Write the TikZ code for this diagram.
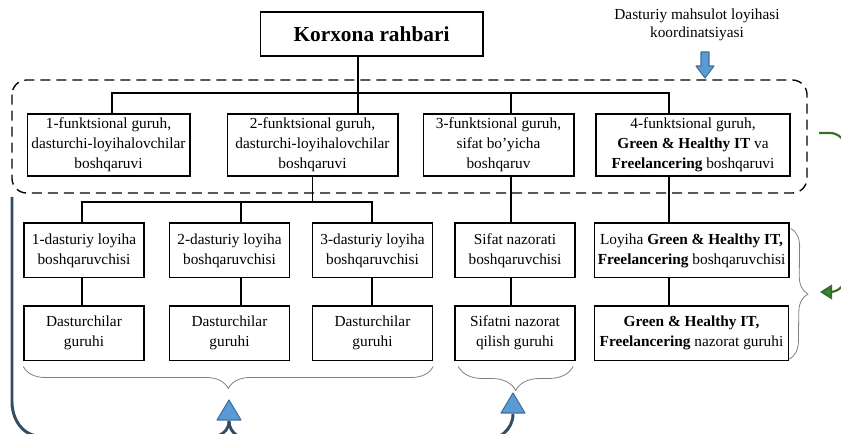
\documentclass[tikz,border=0pt]{standalone}
\usepackage{fontspec}
\setmainfont{Liberation Serif}
\usetikzlibrary{arrows.meta, positioning, decorations.pathreplacing}

\definecolor{arrowblue}{RGB}{91,155,213}
\definecolor{arrowedge}{RGB}{65,113,156}
\definecolor{slate}{RGB}{50,76,100}
\definecolor{leafgreen}{RGB}{58,108,42}
\definecolor{headgreen}{RGB}{30,150,60}

\begin{document}
\begin{tikzpicture}[x=0.75pt, y=-0.75pt]
	\tikzset{box/.style={draw, line width=1pt, align=center, inner sep=2pt, font=\fontsize{11.5}{15}\selectfont},
		fgbox/.style={box, minimum height=46.5pt},
		pmbox/.style={box, minimum height=41pt, minimum width=90pt},
		link/.style={line width=1pt},
		frame/.style={dashed, dash pattern=on 7.5pt off 4.5pt, line width=1pt, rounded corners=11pt},
		bracket/.style={decorate, draw=black!50, line width=0.6pt},
		tri/.style={fill=arrowblue, draw=arrowedge, line width=0.8pt, line join=round},
		slateline/.style={draw=slate, line width=2.2pt},
		greenline/.style={draw=leafgreen, line width=1.6pt}}

	\clip (0,0) rectangle (841,434);

	% top level
	\node[box, minimum width=167pt, minimum height=33pt, font=\bfseries\fontsize{16}{19}\selectfont] (head) at (371.5,34) {Korxona rahbari};
	\node[align=center, inner sep=0pt, font=\fontsize{11.5}{13}\selectfont] (coord) at (697,25) {Dasturiy mahsulot loyihasi\\koordinatsiyasi};

	% functional groups
	\node[fgbox, minimum width=122pt] (fg1) at (108.5,145) {1-funktsional guruh,\\dasturchi-loyihalovchilar\\boshqaruvi};
	\node[fgbox, minimum width=128pt] (fg2) at (312.5,145) {2-funktsional guruh,\\dasturchi-loyihalovchilar\\boshqaruvi};
	\node[fgbox, minimum width=113pt] (fg3) at (498.5,145) {3-funktsional guruh,\\sifat bo’yicha\\boshqaruv};
	\node[fgbox, minimum width=145.5pt] (fg4) at (693,145) {4-funktsional guruh,\\\textbf{Green \& Healthy IT} va\\\textbf{Freelancering} boshqaruvi};

	% managers
	\node[pmbox] (pm1) at (84,250.5) {1-dasturiy loyiha\\boshqaruvchisi};
	\node[pmbox] (pm2) at (229.5,250.5) {2-dasturiy loyiha\\boshqaruvchisi};
	\node[pmbox] (pm3) at (372.5,250.5) {3-dasturiy loyiha\\boshqaruvchisi};
	\node[pmbox] (sn) at (515,250.5) {Sifat nazorati\\boshqaruvchisi};
	\node[pmbox, minimum width=146pt] (lg) at (691.5,250.5) {Loyiha \textbf{Green \& Healthy IT,}\\\textbf{Freelancering} boshqaruvchisi};

	% teams
	\node[pmbox, below=20pt of pm1] (dg1) {Dasturchilar\\guruhi};
	\node[pmbox, below=20pt of pm2] (dg2) {Dasturchilar\\guruhi};
	\node[pmbox, below=20pt of pm3] (dg3) {Dasturchilar\\guruhi};
	\node[pmbox, below=20pt of sn] (sq) {Sifatni nazorat\\qilish guruhi};
	\node[pmbox, minimum width=145.5pt, below=20pt of lg] (gn) {\textbf{Green \& Healthy IT,}\\\textbf{Freelancering} nazorat guruhi};

	% connectors
	\coordinate (d1) at (112,93);
	\coordinate (d2) at (358,93);
	\coordinate (d3) at (511,93);
	\coordinate (d4) at (669,93);
	\coordinate (e1) at (82,202);
	\coordinate (e2) at (241,202);
	\coordinate (e3) at (372,202);

	\draw[link] (head.south -| d2) -- (fg2.north -| d2);
	\draw[link] (fg1.north -| d1) -- (d1) -- (d4) -- (fg4.north -| d4);
	\draw[link] (d3) -- (fg3.north -| d3);
	\draw[link] (fg2.south) -- (fg2.south |- e1);
	\draw[link] (pm1.north -| e1) -- (e1) -- (e3) -- (pm3.north -| e3);
	\draw[link] (e2) -- (pm2.north -| e2);
	\draw[link] (pm1.south -| e1) -- (dg1.north -| e1);
	\draw[link] (pm2.south -| e2) -- (dg2.north -| e2);
	\draw[link] (pm3.south -| e3) -- (dg3.north -| e3);
	\draw[link] (fg3.south -| d3) -- (sn.north -| d3);
	\draw[link] (sn.south -| d3) -- (sq.north -| d3);
	\draw[link] (fg4.south -| d4) -- (lg.north -| d4);
	\draw[link] (lg.south -| d4) -- (gn.north -| d4);

	% dashed frame round the groups
	\draw[frame] (12,80) rectangle (807,193);
	\draw[tri] (701,52) -- (709,52) -- (709,66) -- (714,66) -- (705,78) -- (696,66) -- (701,66) -- cycle;

	% brackets
	\draw[bracket, decoration={brace, amplitude=16.5pt}] ([yshift=-4pt]dg3.south east) -- ([yshift=-4pt]dg1.south west);
	\draw[bracket, decoration={brace, amplitude=18pt}] ([xshift=-2pt, yshift=-4pt]sq.south east) -- ([xshift=3pt, yshift=-4pt]sq.south west);
	\draw[bracket, decoration={brace, amplitude=13.5pt}] ([xshift=1pt, yshift=-4.5pt]lg.north east) -- ([yshift=1.5pt]gn.south east);

	% feedback arrows
	\draw[tri] (229,400) -- (241,420) -- (217,420) -- cycle;
	\draw[tri] (513,393) -- (525,413) -- (501,413) -- cycle;
	\draw[slateline] (12,197) -- (12,402) to[out=-90, in=180] (40,436) -- (196,440) to[out=0, in=-90] (229,421);
	\draw[slateline] (229,421) to[out=-90, in=180] (256,441) -- (482,441) to[out=0, in=-90] (513,414);
	\draw[greenline, -{Triangle[length=9pt, width=11pt, fill=headgreen]}] (819,133) -- (830,133) to[out=0, in=90] (846,150) -- (846,275) to[out=-90, in=0] (830,292) -- (820,292);
\end{tikzpicture}
\end{document}
